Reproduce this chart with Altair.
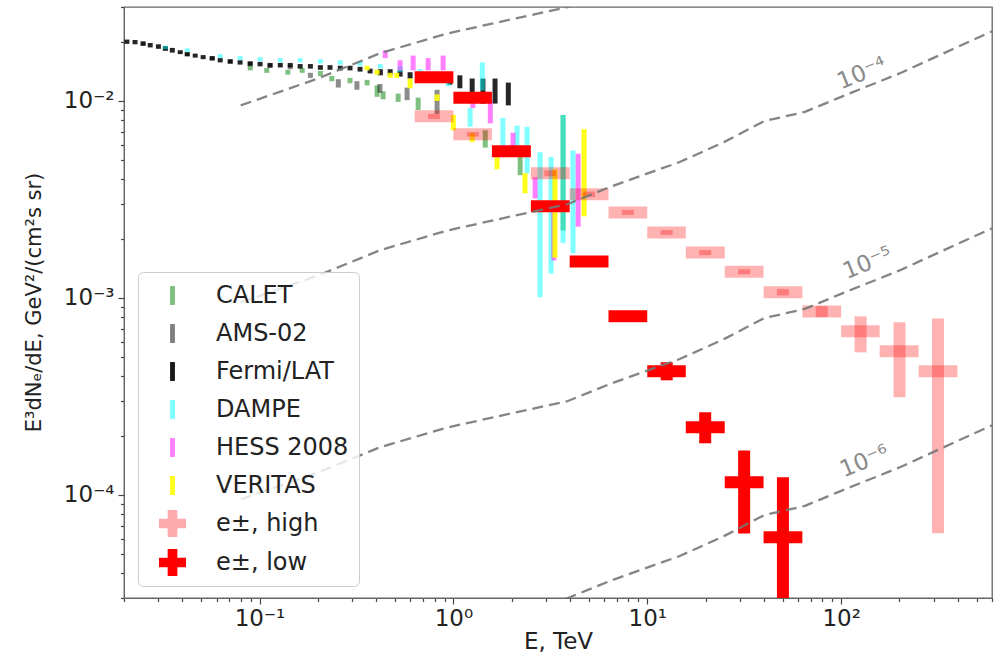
import altair as alt
import pandas as pd

# ---------------- measurements: E [TeV], E^3 dN/dE [GeV^2/(cm^2 s sr)] ----------------
calet_E = [0.0895, 0.109, 0.140, 0.166, 0.206, 0.236, 0.293, 0.359, 0.404, 0.434, 0.519, 0.658, 1.46, 2.21, 3.68]
calet_F = [0.0147, 0.0143, 0.0140, 0.0143, 0.0138, 0.0130, 0.0127, 0.0124, 0.0113, 0.0107, 0.0104, 0.0097, 0.0064, 0.0047, 0.0040]
calet_lo = [0.0143, 0.0139, 0.0136, 0.0139, 0.0134, 0.0126, 0.0123, 0.0120, 0.0105, 0.0102, 0.0099, 0.0090, 0.0058, 0.0042, 0.0022]
calet_hi = [0.0151, 0.0147, 0.0144, 0.0147, 0.0142, 0.0134, 0.0131, 0.0128, 0.0120, 0.0112, 0.0109, 0.0104, 0.0071, 0.0052, 0.0085]

ams_E = [0.0251, 0.0327, 0.0424, 0.057, 0.0706, 0.0895, 0.113, 0.144, 0.183, 0.255, 0.318, 0.418, 0.577, 0.824]
ams_F = [0.0194, 0.0184, 0.0172, 0.0164, 0.0158, 0.0154, 0.0151, 0.0149, 0.0135, 0.0123, 0.0120, 0.0116, 0.0109, 0.0097]
ams_lo = [0.0190, 0.0180, 0.0168, 0.0160, 0.0154, 0.0150, 0.0147, 0.0145, 0.0131, 0.0117, 0.0114, 0.0110, 0.0101, 0.0086]
ams_hi = [0.0198, 0.0188, 0.0176, 0.0168, 0.0162, 0.0158, 0.0155, 0.0153, 0.0139, 0.0129, 0.0126, 0.0122, 0.0117, 0.0114]

fermi_E = [0.0207, 0.0228, 0.0251, 0.0273, 0.0301, 0.0327, 0.0355, 0.039, 0.0424, 0.0466, 0.0512, 0.057,
           0.0627, 0.0706, 0.0794, 0.0895, 0.1007, 0.1135, 0.128, 0.144, 0.162, 0.183, 0.206, 0.231,
           0.261, 0.293, 0.33, 0.372, 0.42, 0.472, 0.531, 0.598, 0.672, 0.756, 0.85, 0.96, 1.08, 1.25,
           1.42, 1.64, 1.92]
fermi_F = [0.0200, 0.0199, 0.0196, 0.0192, 0.0189, 0.0185, 0.0181, 0.0177, 0.0173, 0.0170, 0.0167, 0.0165,
           0.0161, 0.0159, 0.0157, 0.0155, 0.0154, 0.0152, 0.0152, 0.0152, 0.0150, 0.0150, 0.0148, 0.0148,
           0.0147, 0.0147, 0.0145, 0.0142, 0.0140, 0.0140, 0.0138, 0.0135, 0.0132, 0.0132, 0.0130, 0.0127,
           0.0124, 0.0116, 0.0113, 0.0113, 0.0109]
fermi_lo = [0.0195, 0.0194, 0.0191, 0.0187, 0.0184, 0.0180, 0.0176, 0.0173, 0.0169, 0.0166, 0.0163, 0.0161,
            0.0157, 0.0155, 0.0153, 0.0151, 0.0150, 0.0148, 0.0148, 0.0148, 0.0146, 0.0146, 0.0144, 0.0144,
            0.0143, 0.0143, 0.0141, 0.0138, 0.0135, 0.0135, 0.0133, 0.0130, 0.0127, 0.0127, 0.0124, 0.0121,
            0.0116, 0.0103, 0.0097, 0.0097, 0.0095]
fermi_hi = [0.0205, 0.0204, 0.0201, 0.0197, 0.0194, 0.0190, 0.0186, 0.0181, 0.0177, 0.0174, 0.0171, 0.0169,
            0.0165, 0.0163, 0.0161, 0.0159, 0.0158, 0.0156, 0.0156, 0.0156, 0.0154, 0.0154, 0.0152, 0.0152,
            0.0151, 0.0151, 0.0149, 0.0146, 0.0145, 0.0145, 0.0143, 0.0140, 0.0137, 0.0137, 0.0136, 0.0133,
            0.0135, 0.0130, 0.0130, 0.0130, 0.0124]

dampe_E = [0.0327, 0.0424, 0.0627, 0.0794, 0.1007, 0.128, 0.162, 0.206, 0.261, 0.33, 0.42, 0.531, 0.672,
           0.85, 0.94, 1.22, 1.41, 1.80, 2.13, 2.40, 2.80, 3.19, 3.68, 4.14]
dampe_F = [0.0187, 0.0181, 0.0169, 0.0165, 0.0163, 0.0161, 0.0161, 0.0159, 0.0157, 0.0155, 0.0150, 0.0145,
           0.0140, 0.0134, 0.0128, 0.0085, 0.0135, 0.0071, 0.0067, 0.0060, 0.0025, 0.0027, 0.0043, 0.0031]
dampe_lo = [0.0183, 0.0177, 0.0165, 0.0161, 0.0159, 0.0157, 0.0157, 0.0155, 0.0153, 0.0151, 0.0146, 0.0140,
            0.0135, 0.0128, 0.0119, 0.0074, 0.0113, 0.0058, 0.0052, 0.0043, 0.00101, 0.00133, 0.0019, 0.00169]
dampe_hi = [0.0191, 0.0185, 0.0173, 0.0169, 0.0167, 0.0165, 0.0165, 0.0163, 0.0161, 0.0159, 0.0154, 0.0150,
            0.0145, 0.0140, 0.0137, 0.0092, 0.0157, 0.0082, 0.0075, 0.0074, 0.0055, 0.0052, 0.0085, 0.0056]

hess_E = [0.445, 0.531, 0.620, 0.741, 0.885, 1.26, 1.55, 2.03, 2.64, 3.30, 4.40]
hess_F = [0.0173, 0.0152, 0.0157, 0.0155, 0.0157, 0.0100, 0.0088, 0.0063, 0.0037, 0.0023, 0.0035]
hess_lo = [0.0165, 0.0143, 0.0143, 0.0143, 0.0143, 0.0092, 0.0077, 0.0058, 0.0032, 0.00155, 0.0023]
hess_hi = [0.0181, 0.0161, 0.0170, 0.0165, 0.0170, 0.0107, 0.0101, 0.0069, 0.0041, 0.0031, 0.0054]

veritas_E = [0.359, 0.404, 0.472, 0.51, 0.598, 0.824, 1.0, 1.25, 1.68, 2.34, 3.34, 4.72]
veritas_F = [0.0147, 0.0140, 0.0135, 0.0135, 0.0123, 0.0104, 0.0078, 0.0066, 0.0048, 0.0038, 0.0028, 0.0040]
veritas_lo = [0.0143, 0.0136, 0.0131, 0.0131, 0.0116, 0.0100, 0.0071, 0.0062, 0.0045, 0.0034, 0.0016, 0.0026]
veritas_hi = [0.0151, 0.0144, 0.0139, 0.0139, 0.0130, 0.0108, 0.0085, 0.0069, 0.0052, 0.0043, 0.0045, 0.0072]

# ---------------- model points e+-, high / low ----------------
high_E = [0.794, 1.26, 3.16, 5.01, 7.94, 12.6, 19.9, 31.6, 50.1, 79.4, 126, 200, 316]
high_Elo = [0.631, 1.0, 2.51, 3.98, 6.31, 10.0, 15.8, 25.1, 39.8, 63.1, 100, 158, 251]
high_Ehi = [1.0, 1.58, 3.98, 6.31, 10.0, 15.8, 25.1, 39.8, 63.1, 100, 158, 251, 398]
high_F = [8.36e-3, 6.78e-3, 4.3e-3, 3.36e-3, 2.72e-3, 2.15e-3, 1.7e-3, 1.36e-3, 1.07e-3, 8.55e-4, 6.77e-4, 5.36e-4, 4.25e-4]
high_Flo = [8.1e-3, 6.6e-3, 4.15e-3, 3.25e-3, 2.64e-3, 2.09e-3, 1.65e-3, 1.32e-3, 1.03e-3, 8.0e-4, 5.3e-4, 3.13e-4, 6.4e-5]
high_Fhi = [8.6e-3, 6.95e-3, 4.45e-3, 3.47e-3, 2.8e-3, 2.21e-3, 1.75e-3, 1.4e-3, 1.11e-3, 9.1e-4, 8.07e-4, 7.53e-4, 7.88e-4]

low_E = [0.794, 1.26, 2.0, 3.16, 5.01, 7.94, 12.6, 19.9, 31.6, 50.1]
low_Elo = [0.631, 1.0, 1.58, 2.51, 3.98, 6.31, 10.0, 15.8, 25.1, 39.8]
low_Ehi = [1.0, 1.58, 2.51, 3.98, 6.31, 10.0, 15.8, 25.1, 39.8, 63.1]
low_F = [1.32e-2, 1.04e-2, 5.55e-3, 2.92e-3, 1.53e-3, 8.07e-4, 4.25e-4, 2.21e-4, 1.16e-4, 6.1e-5]
low_Flo = [1.3e-2, 1.02e-2, 5.45e-3, 2.87e-3, 1.5e-3, 7.9e-4, 3.82e-4, 1.83e-4, 6.38e-5, 1.0e-5]
low_Fhi = [1.34e-2, 1.06e-2, 5.65e-3, 2.97e-3, 1.56e-3, 8.2e-4, 4.72e-4, 2.63e-4, 1.68e-4, 1.23e-4]

# ---------------- dashed iso-curves ----------------
curve_E = [0.08, 0.2, 0.42, 0.93, 2.0, 3.9, 6.6, 14.7, 25, 40, 65, 100, 200, 600]
curve_1e3 = [9.5e-3, 1.3e-2, 1.75e-2, 2.2e-2, 2.6e-2, 3.0e-2, 3.7e-2, 4.9e-2, 6.2e-2, 7.9e-2, 8.8e-2, 1.05e-1, 1.38e-1, 2.26e-1]
curve_1e4 = [9.5e-4, 1.3e-3, 1.75e-3, 2.2e-3, 2.6e-3, 3.0e-3, 3.7e-3, 4.9e-3, 6.2e-3, 7.9e-3, 8.8e-3, 1.05e-2, 1.38e-2, 2.26e-2]
curve_1e5 = [9.5e-5, 1.3e-4, 1.75e-4, 2.2e-4, 2.6e-4, 3.0e-4, 3.7e-4, 4.9e-4, 6.2e-4, 7.9e-4, 8.8e-4, 1.05e-3, 1.38e-3, 2.26e-3]
curve_1e6 = [9.5e-6, 1.3e-5, 1.75e-5, 2.2e-5, 2.6e-5, 3.0e-5, 3.7e-5, 4.9e-5, 6.2e-5, 7.9e-5, 8.8e-5, 1.05e-4, 1.38e-4, 2.26e-4]

curve_labels = ["10⁻⁴", "10⁻⁵", "10⁻⁶"]
curve_label_E = [128, 137, 132]
curve_label_F = [1.38e-2, 1.5e-3, 1.48e-4]

x_ticks = [0.02, 0.03, 0.04, 0.05, 0.06, 0.07, 0.08, 0.09, 0.1, 0.2, 0.3, 0.4, 0.5, 0.6, 0.7, 0.8, 0.9,
           1, 2, 3, 4, 5, 6, 7, 8, 9, 10, 20, 30, 40, 50, 60, 70, 80, 90, 100, 200, 300, 400, 500, 600]
y_ticks = [3e-5, 4e-5, 5e-5, 6e-5, 7e-5, 8e-5, 9e-5, 1e-4, 2e-4, 3e-4, 4e-4, 5e-4, 6e-4, 7e-4, 8e-4, 9e-4,
           1e-3, 2e-3, 3e-3, 4e-3, 5e-3, 6e-3, 7e-3, 8e-3, 9e-3, 1e-2, 2e-2, 3e-2]

legend_names = ["CALET", "AMS-02", "Fermi/LAT", "DAMPE", "HESS 2008", "VERITAS", "e±, high", "e±, low"]
legend_fill = ["rgba(0,128,0,0.5)", "rgba(0,0,0,0.5)", "rgba(0,0,0,0.9)", "rgba(0,255,255,0.5)",
               "rgba(255,0,255,0.5)", "rgba(255,255,0,0.9)", "rgba(255,0,0,0.33)", "rgb(255,0,0)"]

# ---------------- tables ----------------
exp_sets = [
    ("CALET", "#008000", 0.5, calet_E, calet_F, calet_lo, calet_hi),
    ("AMS-02", "#000000", 0.45, ams_E, ams_F, ams_lo, ams_hi),
    ("Fermi/LAT", "#000000", 0.85, fermi_E, fermi_F, fermi_lo, fermi_hi),
    ("DAMPE", "#00ffff", 0.5, dampe_E, dampe_F, dampe_lo, dampe_hi),
    ("HESS 2008", "#ff00ff", 0.5, hess_E, hess_F, hess_lo, hess_hi),
    ("VERITAS", "#ffff00", 0.9, veritas_E, veritas_F, veritas_lo, veritas_hi),
]
exp_df = pd.concat([
    pd.DataFrame({"series": n, "col": c, "alpha": a, "E": E, "F": F, "Flo": lo, "Fhi": hi})
    for n, c, a, E, F, lo, hi in exp_sets
], ignore_index=True)

high_df = pd.DataFrame({"E": high_E, "Elo": high_Elo, "Ehi": high_Ehi, "F": high_F, "Flo": high_Flo, "Fhi": high_Fhi})
low_df = pd.DataFrame({"E": low_E, "Elo": low_Elo, "Ehi": low_Ehi, "F": low_F, "Flo": low_Flo, "Fhi": low_Fhi})

curve_df = pd.concat([
    pd.DataFrame({"curve": k, "E": curve_E, "F": v})
    for k, v in [("1e-3", curve_1e3), ("1e-4", curve_1e4), ("1e-5", curve_1e5), ("1e-6", curve_1e6)]
], ignore_index=True)
label_df = pd.DataFrame({"E": curve_label_E, "F": curve_label_F, "t": curve_labels})
legend_df = pd.DataFrame({"series": pd.Series([], dtype=str), "E": pd.Series([], dtype=float),
                          "F": pd.Series([], dtype=float)})

# ---------------- scales / axes ----------------
FONT = "DejaVu Sans"
xscale = alt.Scale(type="log", domain=[0.02, 600], nice=False)
yscale = alt.Scale(type="log", domain=[3e-5, 3e-2], nice=False)

x_major = "indexof([0.1, 1, 10, 100], datum.value) >= 0"
y_major = "indexof([0.0001, 0.001, 0.01], datum.value) >= 0"

xaxis = alt.Axis(
    values=x_ticks, title="E, TeV", grid=False,
    labelExpr="datum.value == 0.1 ? '10⁻¹' : datum.value == 1 ? '10⁰' : datum.value == 10 ? '10¹' : datum.value == 100 ? '10²' : ''",
    tickSize={"condition": {"test": x_major, "value": 6}, "value": 3.5},
    tickColor="#444", tickWidth=1.2, domainColor="#666",
    labelFont=FONT, labelFontSize=23, labelColor="#222", labelPadding=3,
    labelOverlap=False, labelFlush=False,
    titleFont=FONT, titleFontSize=23, titleFontWeight="normal", titleColor="#222",
    titleY=43, titleBaseline="middle",
)
yaxis = alt.Axis(
    values=y_ticks, title="E³dNₑ/dE, GeV²/(cm²s sr)", grid=False,
    labelExpr="datum.value == 0.01 ? '10⁻²' : datum.value == 0.001 ? '10⁻³' : datum.value == 0.0001 ? '10⁻⁴' : ''",
    tickSize={"condition": {"test": y_major, "value": 6}, "value": 3.5},
    tickColor="#444", tickWidth=1.2, domainColor="#666",
    labelFont=FONT, labelFontSize=23, labelColor="#222", labelPadding=4,
    labelOverlap=False, labelFlush=False,
    titleFont=FONT, titleFontSize=21, titleFontWeight="normal", titleColor="#222",
    titleX=-90, titleY=295, titleAngle=270, titleBaseline="middle", titleAlign="center",
)


def X(field):
    return alt.X(f"{field}:Q", scale=xscale, axis=xaxis)


def Y(field):
    return alt.Y(f"{field}:Q", scale=yscale, axis=yaxis)


# ---------------- layers ----------------
exp_layer = alt.Chart(exp_df).mark_rule(strokeWidth=5, strokeCap="butt", clip=True).encode(
    x=X("E"), y=Y("Flo"), y2="Fhi",
    color=alt.Color("col:N", scale=None),
    opacity=alt.Opacity("alpha:Q", scale=None),
)

high_h = alt.Chart(high_df).mark_rule(strokeWidth=12, strokeCap="butt", color="red", opacity=0.3, clip=True).encode(
    x=X("Elo"), x2="Ehi", y=Y("F"))
high_v = alt.Chart(high_df).mark_rule(strokeWidth=12, strokeCap="butt", color="red", opacity=0.3, clip=True).encode(
    x=X("E"), y=Y("Flo"), y2="Fhi")
low_h = alt.Chart(low_df).mark_rule(strokeWidth=12, strokeCap="butt", color="red", opacity=1, clip=True).encode(
    x=X("Elo"), x2="Ehi", y=Y("F"))
low_v = alt.Chart(low_df).mark_rule(strokeWidth=12, strokeCap="butt", color="red", opacity=1, clip=True).encode(
    x=X("E"), y=Y("Flo"), y2="Fhi")

curves = alt.Chart(curve_df).mark_line(strokeDash=[11, 6], strokeWidth=2.3, color="#777", opacity=0.9, clip=True).encode(
    x=X("E"), y=Y("F"), detail="curve:N")

labels = alt.Chart(label_df).mark_text(font=FONT, fontSize=23, color="#8a8a8a", angle=338).encode(
    x=X("E"), y=Y("F"), text="t:N")

bar_path = "M-0.18,-0.7L0.18,-0.7L0.18,0.7L-0.18,0.7Z"
cross_path = ("M-0.36,-1L0.36,-1L0.36,-0.36L1,-0.36L1,0.36L0.36,0.36L0.36,1L-0.36,1L-0.36,0.36"
              "L-1,0.36L-1,-0.36L-0.36,-0.36Z")
legend_shapes = [bar_path] * 6 + [cross_path, cross_path]

leg = alt.Legend(
    title=None, orient="none", legendX=14, legendY=265,
    fillColor="rgba(255,255,255,0.8)", strokeColor="#cccccc", cornerRadius=5, padding=10,
    rowPadding=12, symbolSize=729, symbolStrokeWidth=0, symbolOffset=11, labelOffset=30,
    labelFont=FONT, labelFontSize=24, labelColor="#222", labelLimit=300,
)
legend_layer = alt.Chart(legend_df).mark_point(filled=True, opacity=1, size=729).encode(
    x=X("E"), y=Y("F"),
    color=alt.Color("series:N", scale=alt.Scale(domain=legend_names, range=legend_fill), legend=leg),
    shape=alt.Shape("series:N", scale=alt.Scale(domain=legend_names, range=legend_shapes), legend=leg),
)

chart = alt.layer(exp_layer, high_h, high_v, low_h, low_v, curves, labels, legend_layer).properties(
    width=868, height=591,
    padding={"left": 124, "top": 7, "right": 8, "bottom": 69},
    autosize=alt.AutoSizeParams(type="none"),
    background="white",
).configure(font=FONT).configure_view(stroke="#666", strokeWidth=1.3)

chart.save("out.html", embed_options={"renderer": "svg", "actions": False})
